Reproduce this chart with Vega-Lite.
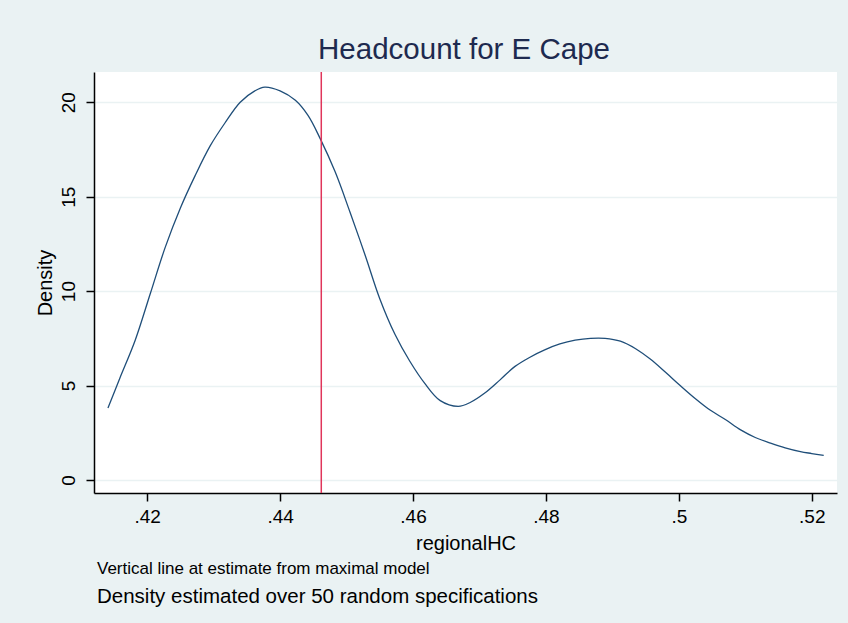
{
  "$schema": "https://vega.github.io/schema/vega-lite/v6.json",
  "background": "#EAF2F3",
  "padding": {"left": 35, "top": 34, "right": 11, "bottom": 16},
  "config": {
    "font": "Liberation Sans",
    "view": {"fill": "white", "stroke": null},
    "axis": {"labelFont": "Liberation Sans", "titleFont": "Liberation Sans", "labelColor": "#000000", "titleColor": "#000000", "domainColor": "#000000", "tickColor": "#000000", "labelFontSize": 19, "titleFontSize": 20, "titleFontWeight": "normal", "tickSize": 8, "domainWidth": 1.5, "tickWidth": 1.5}
  },
  "title": {"text": "Headcount for E Cape", "fontSize": 29.5, "fontWeight": "normal", "color": "#1E2A4F", "anchor": "middle", "offset": 6, "dx": 28, "font": "Liberation Sans"},
  "vconcat": [
    {
      "width": 743,
      "height": 421,
      "title": {"text": "Vertical line at estimate from maximal model", "subtitle": "Density estimated over 50 random specifications", "orient": "bottom", "anchor": "start", "fontSize": 17, "fontWeight": "normal", "color": "#000000", "subtitleFontSize": 20.5, "subtitleColor": "#000000", "subtitlePadding": 9, "offset": 8, "dx": 3, "font": "Liberation Sans", "subtitleFont": "Liberation Sans", "frame": "group"},
      "layer": [
        {
          "data": {"values": [
            {"x": 0.4141, "y": 3.81}, {"x": 0.4159, "y": 5.4}, {"x": 0.4182, "y": 7.4}, {"x": 0.4205, "y": 9.9},
            {"x": 0.4227, "y": 12.3}, {"x": 0.425, "y": 14.4}, {"x": 0.4272, "y": 16.1}, {"x": 0.4295, "y": 17.7},
            {"x": 0.4317, "y": 18.9}, {"x": 0.434, "y": 20.0}, {"x": 0.4362, "y": 20.6}, {"x": 0.4377, "y": 20.8},
            {"x": 0.44, "y": 20.6}, {"x": 0.4423, "y": 20.1}, {"x": 0.4442, "y": 19.3}, {"x": 0.446, "y": 18.1},
            {"x": 0.4483, "y": 16.3}, {"x": 0.4505, "y": 14.2}, {"x": 0.4528, "y": 11.9}, {"x": 0.455, "y": 9.6},
            {"x": 0.4573, "y": 7.7}, {"x": 0.4595, "y": 6.3}, {"x": 0.4618, "y": 5.1}, {"x": 0.4641, "y": 4.2},
            {"x": 0.4668, "y": 3.9}, {"x": 0.4686, "y": 4.1}, {"x": 0.4708, "y": 4.6}, {"x": 0.4731, "y": 5.3},
            {"x": 0.4753, "y": 6.0}, {"x": 0.4776, "y": 6.5}, {"x": 0.4799, "y": 6.9}, {"x": 0.4821, "y": 7.2},
            {"x": 0.4844, "y": 7.4}, {"x": 0.4867, "y": 7.5}, {"x": 0.4889, "y": 7.5}, {"x": 0.4912, "y": 7.35},
            {"x": 0.4935, "y": 6.95}, {"x": 0.4957, "y": 6.4}, {"x": 0.498, "y": 5.7}, {"x": 0.5002, "y": 5.0},
            {"x": 0.5025, "y": 4.3}, {"x": 0.5047, "y": 3.7}, {"x": 0.507, "y": 3.2}, {"x": 0.5093, "y": 2.65},
            {"x": 0.5115, "y": 2.25}, {"x": 0.5138, "y": 1.95}, {"x": 0.516, "y": 1.7}, {"x": 0.5183, "y": 1.5},
            {"x": 0.52, "y": 1.4}, {"x": 0.5218, "y": 1.3}
          ]},
          "mark": {"type": "line", "interpolate": "catmull-rom", "color": "#1F4E79", "strokeWidth": 1.3},
          "encoding": {
            "x": {"field": "x", "type": "quantitative", "scale": {"domain": [0.412, 0.5238], "nice": false, "zero": false},
                  "axis": {"title": "regionalHC", "values": [0.42, 0.44, 0.46, 0.48, 0.5, 0.52], "labelExpr": "replace(format(datum.value, '.2~f'), /^0/, '')", "grid": false, "labelPadding": 6, "titlePadding": 7}},
            "y": {"field": "y", "type": "quantitative", "scale": {"domain": [-0.69, 21.6], "nice": false, "zero": false},
                  "axis": {"title": "Density", "values": [0, 5, 10, 15, 20], "labelAngle": -90, "labelAlign": "center", "labelBaseline": "bottom", "labelPadding": 8, "titlePadding": 4, "grid": true, "gridColor": "#EAF2F3", "gridWidth": 1.5}}
          }
        },
        {
          "data": {"values": [{"estimate": 0.4462}]},
          "mark": {"type": "rule", "color": "#E0355A", "strokeWidth": 1.5},
          "encoding": {"x": {"field": "estimate", "type": "quantitative"}}
        }
      ]
    }
  ]
}
